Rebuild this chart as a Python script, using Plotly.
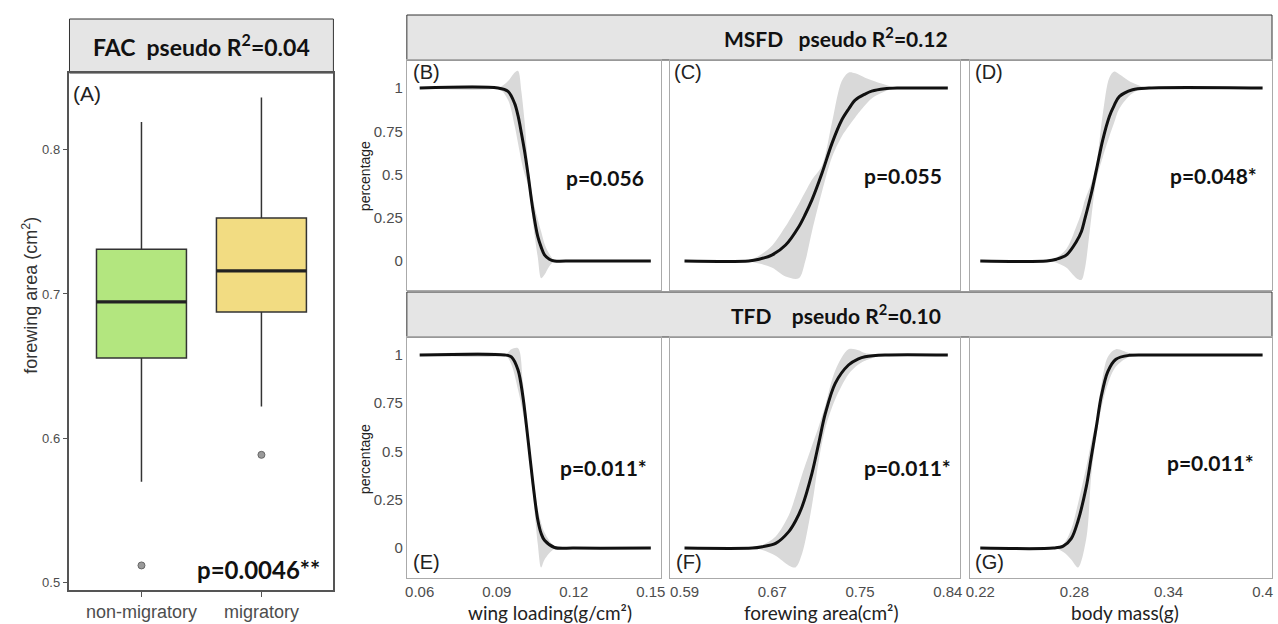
import plotly.graph_objects as go

# ---------------- data ----------------
groups = ["non-migratory", "migratory"]
box_q1 = [0.6557, 0.6875]
box_median = [0.6945, 0.716]
box_q3 = [0.731, 0.7526]
box_lower = [0.570, 0.622]
box_upper = [0.819, 0.836]
outliers = [0.512, 0.5886]

# (B) MSFD ~ wing loading
B_x = [0.060, 0.0905, 0.0944, 0.0970, 0.0983, 0.0996, 0.1009, 0.1022, 0.1041, 0.1060, 0.1073, 0.1086, 0.1105, 0.1125, 0.120, 0.150]
B_fit = [1.0, 1.0, 0.98, 0.91, 0.84, 0.74, 0.63, 0.50, 0.295, 0.14, 0.08, 0.035, 0.01, 0.0, 0.0, 0.0]
B_upper = [1.0, 1.0, 1.04, 1.09, 1.10, 0.98, 0.80, 0.56, 0.36, 0.24, 0.17, 0.10, 0.04, 0.005, 0.0, 0.0]
B_lower = [1.0, 1.0, 0.93, 0.78, 0.68, 0.58, 0.50, 0.44, 0.22, 0.02, -0.10, -0.08, -0.03, -0.005, 0.0, 0.0]

# (C) MSFD ~ forewing area
C_x = [0.590, 0.651, 0.6608, 0.6733, 0.686, 0.6985, 0.7047, 0.711, 0.7205, 0.730, 0.7393, 0.746, 0.752, 0.7614, 0.7677, 0.780, 0.7928, 0.840]
C_fit = [0.0, 0.0, 0.01, 0.035, 0.092, 0.198, 0.27, 0.353, 0.507, 0.68, 0.815, 0.88, 0.93, 0.965, 0.982, 0.996, 1.0, 1.0]
C_upper = [0.0, 0.005, 0.03, 0.09, 0.20, 0.33, 0.40, 0.47, 0.55, 0.80, 1.04, 1.09, 1.085, 1.06, 1.045, 1.02, 1.0, 1.0]
C_lower = [0.0, -0.005, -0.015, -0.04, -0.09, -0.10, 0.0, 0.17, 0.40, 0.60, 0.72, 0.78, 0.83, 0.90, 0.94, 0.98, 1.0, 1.0]

# (D) MSFD ~ body mass
D_x = [0.220, 0.2623, 0.2686, 0.275, 0.2813, 0.2845, 0.2866, 0.2908, 0.294, 0.2981, 0.3023, 0.3054, 0.3086, 0.3171, 0.3276, 0.400]
D_fit = [0.0, 0.0, 0.01, 0.035, 0.112, 0.17, 0.24, 0.39, 0.525, 0.70, 0.835, 0.90, 0.95, 0.99, 1.0, 1.0]
D_upper = [0.0, 0.0, 0.02, 0.07, 0.20, 0.28, 0.35, 0.45, 0.56, 0.85, 1.06, 1.095, 1.08, 1.03, 1.0, 1.0]
D_lower = [0.0, 0.0, -0.01, -0.04, -0.10, -0.11, -0.05, 0.25, 0.47, 0.60, 0.72, 0.80, 0.88, 0.97, 1.0, 1.0]

# (E) TFD ~ wing loading
E_x = [0.060, 0.0931, 0.0957, 0.0983, 0.1002, 0.1022, 0.1041, 0.1060, 0.1073, 0.1086, 0.1125, 0.120, 0.150]
E_fit = [1.0, 1.0, 0.99, 0.922, 0.784, 0.56, 0.335, 0.145, 0.075, 0.04, 0.003, 0.0, 0.0]
E_upper = [1.0, 1.0, 1.03, 1.035, 0.86, 0.60, 0.38, 0.20, 0.13, 0.08, 0.01, 0.0, 0.0]
E_lower = [1.0, 1.0, 0.95, 0.82, 0.70, 0.52, 0.28, 0.02, -0.10, -0.06, -0.005, 0.0, 0.0]

# (F) TFD ~ forewing area
F_x = [0.590, 0.6544, 0.6639, 0.6765, 0.689, 0.6954, 0.7016, 0.711, 0.7174, 0.7237, 0.7331, 0.7457, 0.7551, 0.7614, 0.7803, 0.840]
F_fit = [0.0, 0.0, 0.007, 0.024, 0.085, 0.14, 0.214, 0.387, 0.542, 0.697, 0.853, 0.948, 0.98, 0.991, 1.0, 1.0]
F_upper = [0.0, 0.0, 0.015, 0.06, 0.17, 0.27, 0.38, 0.53, 0.63, 0.74, 0.92, 1.03, 1.025, 1.01, 1.0, 1.0]
F_lower = [0.0, 0.0, -0.01, -0.04, -0.09, -0.10, -0.03, 0.22, 0.45, 0.62, 0.77, 0.90, 0.95, 0.97, 1.0, 1.0]

# (G) TFD ~ body mass
G_x = [0.220, 0.2666, 0.2729, 0.2781, 0.2823, 0.2876, 0.2908, 0.294, 0.2971, 0.3013, 0.3065, 0.3149, 0.3276, 0.400]
G_fit = [0.0, 0.0, 0.01, 0.05, 0.14, 0.318, 0.473, 0.628, 0.784, 0.914, 0.978, 0.998, 1.0, 1.0]
G_upper = [0.0, 0.0, 0.02, 0.10, 0.23, 0.42, 0.55, 0.66, 0.84, 0.99, 1.03, 1.01, 1.0, 1.0]
G_lower = [0.0, 0.0, -0.02, -0.06, -0.10, 0.05, 0.38, 0.58, 0.72, 0.85, 0.94, 0.99, 1.0, 1.0]

y_tickvals = [0, 0.25, 0.5, 0.75, 1]
y_ticktext = ["0", "0.25", "0.5", "0.75", "1"]
wl_ticks = [0.06, 0.09, 0.12, 0.15]
wl_text = ["0.06", "0.09", "0.12", "0.15"]
fa_ticks = [0.59, 0.6733, 0.7567, 0.84]
fa_text = ["0.59", "0.67", "0.75", "0.84"]
bm_ticks = [0.22, 0.28, 0.34, 0.40]
bm_text = ["0.22", "0.28", "0.34", "0.4"]
p_values = ["p=0.056", "p=0.055", "p=0.048*", "p=0.011*", "p=0.011*", "p=0.011*"]
panel_letters = ["(B)", "(C)", "(D)", "(E)", "(F)", "(G)"]

# ---------------- layout helpers ----------------
W, H = 1278, 624
def fx(p):
    return p / W
def fy(p):
    return 1 - p / H

ARIAL = "Liberation Sans, Arial, sans-serif"
CAL = "Lato, Open Sans, sans-serif"
TICKC = "#4d4d4d"

fig = go.Figure()

# ---------------- left box plot ----------------
box_colors = ["#B3E67F", "#F2DC82"]
positions = [1, 2]
bw = 0.75
for i in range(2):
    fig.add_trace(go.Box(
        x=[positions[i]], q1=[box_q1[i]], median=[box_median[i]], q3=[box_q3[i]],
        lowerfence=[box_lower[i]], upperfence=[box_upper[i]],
        width=bw, fillcolor=box_colors[i], line=dict(color="#333333", width=1.5),
        whiskerwidth=0, boxpoints=False, xaxis="x", yaxis="y", hoverinfo="skip"))
    fig.add_trace(go.Scatter(
        x=[positions[i] - bw / 2, positions[i] + bw / 2], y=[box_median[i], box_median[i]],
        mode="lines", line=dict(color="#222222", width=3.2), xaxis="x", yaxis="y"))
fig.add_trace(go.Scatter(
    x=positions, y=outliers, mode="markers",
    marker=dict(color="#9a9a9a", size=7, line=dict(color="#666666", width=1)),
    xaxis="x", yaxis="y"))

# ---------------- logistic panels ----------------
panels = [
    (B_x, B_fit, B_lower, B_upper),
    (C_x, C_fit, C_lower, C_upper),
    (D_x, D_fit, D_lower, D_upper),
    (E_x, E_fit, E_lower, E_upper),
    (F_x, F_fit, F_lower, F_upper),
    (G_x, G_fit, G_lower, G_upper),
]
SM = 0.9
for k, (xs, fit, lo, up) in enumerate(panels):
    ax = str(k + 2)
    fig.add_trace(go.Scatter(x=xs, y=lo, mode="lines", line=dict(width=0, shape="spline", smoothing=SM),
                             xaxis="x" + ax, yaxis="y" + ax, hoverinfo="skip"))
    fig.add_trace(go.Scatter(x=xs, y=up, mode="lines", line=dict(width=0, shape="spline", smoothing=SM),
                             fill="tonexty", fillcolor="#d9d9d9",
                             xaxis="x" + ax, yaxis="y" + ax, hoverinfo="skip"))
    fig.add_trace(go.Scatter(x=xs, y=fit, mode="lines",
                             line=dict(color="#111111", width=3, shape="spline", smoothing=SM),
                             xaxis="x" + ax, yaxis="y" + ax))

layout = dict(
    width=W, height=H, margin=dict(l=0, r=0, t=0, b=0),
    plot_bgcolor="white", paper_bgcolor="white", showlegend=False,
)

# left axes
layout["xaxis"] = dict(domain=[fx(65), fx(331)], range=[0.4, 2.6], tickvals=positions, ticktext=groups,
                       showline=True, mirror=True, linecolor="#555555", linewidth=1.5,
                       ticks="outside", ticklen=5, tickcolor="#555555", showgrid=False, zeroline=False,
                       tickfont=dict(family=ARIAL, size=18, color=TICKC), anchor="y")
layout["yaxis"] = dict(domain=[fy(590), fy(73)], range=[0.495, 0.853], tickvals=[0.5, 0.6, 0.7, 0.8],
                       ticktext=["0.5", "0.6", "0.7", "0.8"],
                       showline=True, mirror=True, linecolor="#555555", linewidth=1.5,
                       ticks="outside", ticklen=5, tickcolor="#555555", showgrid=False, zeroline=False,
                       tickfont=dict(family=ARIAL, size=13, color=TICKC), anchor="x")

xdoms = [(405, 661), (670, 963), (973, 1277)]
ydoms = [(60, 290), (337, 578)]
xranges = [[0.055, 0.1539], [0.576, 0.852], [0.2137, 0.406]]
yranges = [[-0.168, 1.162], [-0.155, 1.093]]
xt = [(wl_ticks, wl_text), (fa_ticks, fa_text), (bm_ticks, bm_text)]
for k in range(6):
    row, col = divmod(k, 3)
    ax = str(k + 2)
    x0, x1 = xdoms[col]
    y0, y1 = ydoms[row]
    layout["xaxis" + ax] = dict(domain=[fx(x0), fx(x1)], range=xranges[col],
                                tickvals=xt[col][0], ticktext=xt[col][1],
                                showticklabels=(row == 1), ticks="",
                                showline=True, mirror=True, linecolor="#aaaaaa", linewidth=1,
                                showgrid=False, zeroline=False, anchor="y" + ax,
                                tickfont=dict(family=ARIAL, size=15, color=TICKC))
    layout["yaxis" + ax] = dict(domain=[fy(y1), fy(y0)], range=yranges[row],
                                tickvals=y_tickvals, ticktext=y_ticktext,
                                showticklabels=(col == 0), ticks="",
                                showline=True, mirror=True, linecolor="#aaaaaa", linewidth=1,
                                showgrid=False, zeroline=False, anchor="x" + ax,
                                tickfont=dict(family=ARIAL, size=15, color=TICKC))

# strips
shapes = []
for (sx0, sx1, sy0, sy1) in [(65, 331, 19, 73), (405, 1277, 15, 60), (405, 1277, 292, 337)]:
    shapes.append(dict(type="rect", xref="paper", yref="paper", x0=fx(sx0), x1=fx(sx1),
                       y0=fy(sy1), y1=fy(sy0), fillcolor="#e5e5e5",
                       line=dict(color="#333333", width=1), layer="below"))
layout["shapes"] = shapes

ann = []
def add_text(text, x, y, size, family, color="#111111", xanchor="center", yanchor="middle", angle=0):
    ann.append(dict(text=text, x=x, y=y, xref="paper", yref="paper", showarrow=False,
                    font=dict(size=size, family=family, color=color),
                    xanchor=xanchor, yanchor=yanchor, textangle=angle))

add_text("<b>FAC  pseudo R<sup>2</sup>=0.04</b>", fx(198), fy(46), 23, CAL)
add_text("<b>MSFD   pseudo R<sup>2</sup>=0.12</b>", fx(838), fy(37), 21, CAL)
add_text("<b>TFD    pseudo R<sup>2</sup>=0.10</b>", fx(838), fy(314), 21, CAL)
add_text("(A)", fx(67), fy(93), 21, ARIAL, color="#222222", xanchor="left")
add_text("forewing area (cm<sup>2</sup>)", fx(25), fy(295), 18, ARIAL, color="#333333", angle=-90)
add_text("<b>p=0.0046**</b>", fx(255), fy(569), 24, CAL)

letter_pos = [(409, 72), (672, 72), (976, 72), (409, 562), (674, 562), (976, 562)]
p_pos = [(605, 177), (905, 175), (1218, 175), (603, 467), (910, 467), (1215, 462)]
for k in range(6):
    lx, ly = letter_pos[k]
    add_text(panel_letters[k], fx(lx), fy(ly), 20, ARIAL, color="#222222", xanchor="left")
    px_, py_ = p_pos[k]
    add_text("<b>" + p_values[k] + "</b>", fx(px_), fy(py_), 21, CAL)

add_text("percentage", fx(363), fy(176), 14, ARIAL, color="#222222", angle=-90)
add_text("percentage", fx(363), fy(459), 14, ARIAL, color="#222222", angle=-90)
add_text("wing loading(g/cm²)", fx(549), fy(612), 19, CAL, color="#222222")
add_text("forewing area(cm²)", fx(822), fy(612), 19, CAL, color="#222222")
add_text("body mass(g)", fx(1129), fy(612), 19, CAL, color="#222222")
layout["annotations"] = ann

fig.update_layout(**layout)
fig.write_html("out.html", config={"displayModeBar": False},
               post_script="document.body.style.margin='0';document.body.style.overflow='hidden';")
